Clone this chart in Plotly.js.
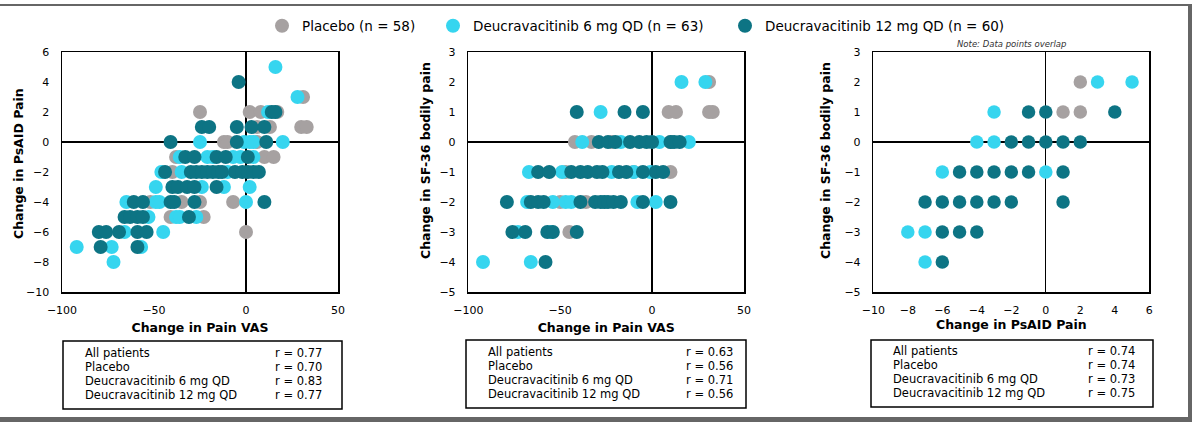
<!DOCTYPE html>
<html><head><meta charset="utf-8">
<script src="https://cdn.plot.ly/plotly-3.0.1.min.js"></script>
<style>html,body{margin:0;padding:0;background:#fff;}#chart{width:1192px;height:422px;}</style>
</head><body><div id="chart"></div>
<script>
// ---------- data ----------
var groups = ['Placebo (n = 58)', 'Deucravacitinib 6 mg QD (n = 63)', 'Deucravacitinib 12 mg QD (n = 60)'];

// Panel 1: Change in Pain VAS (x) vs Change in PsAID Pain (y)
var p1PlaceboX = [31, -25, 2, 8, 17, 6, 13, 30, 33, -12, -10, 6, -38, 10, 15, -40, -52, -35, -25, -7, -41, -23, 0];
var p1PlaceboY = [3, 2, 2, 2, 2, 1, 1, 1, 1, 0, 0, 0, -1, -1, -1, -2, -4, -4, -4, -4, -5, -5, -6];
var p1Dose6X = [16, 28, 12, -25, -1, 2, 4, 20, -36, -21, -18, -7, -3, 4, -46, -35, -10, -49, -24, -12, 2, -65, -49, -47, 0, -53, -38, -36, -27, -66, -45, -92, -73, -57, -72];
var p1Dose6Y = [5, 3, 2, 0, 0, 0, 0, 0, -1, -1, -1, -1, -1, -1, -2, -2, -2, -3, -3, -3, -3, -4, -4, -4, -4, -5, -5, -5, -5, -6, -6, -7, -7, -7, -8];
var p1Dose12X = [-4, 14, 16, -24, -20, -5, 3, 10, -41, -5, 11, -33, -28, -16, -11, 1, -44, -30, -27, -24, -21, -18, -15, -13, -6, -2, 1, 4, 7, -40, -37, -32, -28, -16, -61, -56, -41, -39, -28, 10, -66, -63, -59, -56, -31, -80, -76, -69, -59, -54, -79, -59];
var p1Dose12Y = [4, 2, 2, 1, 1, 1, 1, 1, 0, 0, 0, -1, -1, -1, -1, -1, -2, -2, -2, -2, -2, -2, -2, -2, -2, -2, -2, -2, -2, -3, -3, -3, -3, -3, -4, -4, -4, -4, -4, -4, -5, -5, -5, -5, -5, -6, -6, -6, -6, -6, -7, -7];

// Panel 2: Change in Pain VAS (x) vs Change in SF-36 bodily pain (y)
var p2PlaceboX = [31, 9, 13, 31, 33, -42, -33, -22, 10, -47, -10, 10, -50, -36, -45];
var p2PlaceboY = [2, 1, 1, 1, 1, 0, 0, 0, 0, -1, -1, -1, -2, -2, -3];
var p2Dose6X = [16, 29, -28, -38, -17, 4, 20, -67, -49, -22, -10, -1, -68, -54, -47, -44, -8, 2, -73, -55, -92, -66];
var p2Dose6Y = [2, 2, 1, 0, 0, 0, 0, -1, -1, -1, -1, -1, -2, -2, -2, -2, -2, -2, -3, -3, -4, -4];
var p2Dose12X = [-41, -15, -5, -29, -24, -20, -12, -7, -3, 0, 10, 12, 15, -62, -56, -44, -39, -35, -30, -27, -18, -14, -5, 2, 6, -79, -66, -62, -59, -39, -31, -28, -26, -24, -21, -17, -5, 10, -76, -69, -57, -54, -41, -58];
var p2Dose12Y = [1, 1, 1, 0, 0, 0, 0, 0, 0, 0, 0, 0, 0, -1, -1, -1, -1, -1, -1, -1, -1, -1, -1, -1, -1, -2, -2, -2, -2, -2, -2, -2, -2, -2, -2, -2, -2, -2, -3, -3, -3, -3, -3, -4];

// Panel 3: Change in PsAID Pain (x) vs Change in SF-36 bodily pain (y)
var p3PlaceboX = [2, 1, 2];
var p3PlaceboY = [2, 1, 1];
var p3Dose6X = [3, 5, -3, -4, -3, -6, 0, -8, -7, -7];
var p3Dose6Y = [2, 2, 1, 0, 0, -1, -1, -3, -3, -4];
var p3Dose12X = [-1, 0, 4, -2, -1, 0, 1, 2, -5, -4, -3, -2, -1, 1, -7, -6, -5, -4, -3, -2, 1, -6, -5, -4, -6];
var p3Dose12Y = [1, 1, 1, 0, 0, 0, 0, 0, -1, -1, -1, -1, -1, -1, -2, -2, -2, -2, -2, -2, -2, -3, -3, -3, -4];

// correlation tables
var tableLabels = ['All patients', 'Placebo', 'Deucravacitinib 6 mg QD', 'Deucravacitinib 12 mg QD'];
var r1 = ['0.77', '0.70', '0.83', '0.77'];
var r2 = ['0.63', '0.56', '0.71', '0.56'];
var r3 = ['0.74', '0.74', '0.73', '0.75'];

var xTitles = ['Change in Pain VAS', 'Change in Pain VAS', 'Change in PsAID Pain'];
var yTitles = ['Change in PsAID Pain', 'Change in SF-36 bodily pain', 'Change in SF-36 bodily pain'];

// ---------- styling ----------
var W = 1192, H = 422;
function px(v) { return v / W; }
function py(v) { return 1 - v / H; }
var FONT = 'DejaVu Sans, Verdana, sans-serif';
var colors = ['#A6A1A1', '#36D5EF', '#0D7484'];
var legendNames = ['legend', 'legend2', 'legend3'];
var legendX = [262, 433, 725];

var panels = [
  {sets: [[p1PlaceboX, p1PlaceboY], [p1Dose6X, p1Dose6Y], [p1Dose12X, p1Dose12Y]], size: 14},
  {sets: [[p2PlaceboX, p2PlaceboY], [p2Dose6X, p2Dose6Y], [p2Dose12X, p2Dose12Y]], size: 14},
  {sets: [[p3PlaceboX, p3PlaceboY], [p3Dose6X, p3Dose6Y], [p3Dose12X, p3Dose12Y]], size: 13.5}
];

var traces = [];
panels.forEach(function (p, i) {
  p.sets.forEach(function (s, g) {
    traces.push({
      type: 'scatter', mode: 'markers',
      x: s[0], y: s[1],
      name: groups[g], legendgroup: 'g' + g, showlegend: i === 0,
      legend: legendNames[g],
      xaxis: i === 0 ? 'x' : 'x' + (i + 1),
      yaxis: i === 0 ? 'y' : 'y' + (i + 1),
      marker: {color: colors[g], size: p.size, line: {width: 0}},
      hoverinfo: 'x+y+name'
    });
  });
});

function axisBase(extra) {
  var a = {
    showline: true, mirror: true, linecolor: '#000', linewidth: 1.5,
    showgrid: false, zeroline: true, zerolinecolor: '#000', zerolinewidth: 1.3,
    ticks: '', tickfont: {family: FONT, size: 11, color: '#000'},
    fixedrange: true
  };
  for (var k in extra) a[k] = extra[k];
  return a;
}
var yDom = [py(292), py(52)];
var xDoms = [[px(62), px(338)], [px(468.3), px(744)], [px(873.3), px(1149.3)]];
var titleFont = {family: FONT, size: 12.5, color: '#000'};

function legendDef(i) {
  return {
    orientation: 'h', x: px(legendX[i]), xanchor: 'left', y: py(26), yanchor: 'middle',
    font: {family: FONT, size: 13.5, color: '#000'}, itemsizing: 'trace',
    bgcolor: 'rgba(0,0,0,0)', borderwidth: 0
  };
}

var layout = {
  width: W, height: H,
  margin: {l: 0, r: 0, t: 0, b: 0},
  paper_bgcolor: '#fff', plot_bgcolor: '#fff',
  font: {family: FONT, color: '#000'},
  showlegend: true,
  legend: legendDef(0), legend2: legendDef(1), legend3: legendDef(2),
  xaxis: axisBase({domain: xDoms[0], range: [-100, 50], tickvals: [-100, -50, 0, 50], anchor: 'y', ticklabelstandoff: 7,
    title: {text: '<b>' + xTitles[0] + '</b>', font: titleFont, standoff: 7}}),
  yaxis: axisBase({domain: yDom, range: [-10, 6], dtick: 2, anchor: 'x', ticklabelstandoff: 9}),
  xaxis2: axisBase({domain: xDoms[1], range: [-100, 50], tickvals: [-100, -50, 0, 50], anchor: 'y2', ticklabelstandoff: 7,
    title: {text: '<b>' + xTitles[1] + '</b>', font: titleFont, standoff: 7}}),
  yaxis2: axisBase({domain: yDom, range: [-5, 3], dtick: 1, anchor: 'x2', ticklabelstandoff: 9}),
  xaxis3: axisBase({domain: xDoms[2], range: [-10, 6], dtick: 2, anchor: 'y3', ticklabelstandoff: 7,
    title: {text: '<b>' + xTitles[2] + '</b>', font: titleFont, standoff: 4}}),
  yaxis3: axisBase({domain: yDom, range: [-5, 3], dtick: 1, anchor: 'x3', ticklabelstandoff: 9}),
  shapes: [],
  annotations: []
};

// y-axis titles (placed slightly above the plot centre, as in the source)
var yTitlePos = [[18, 164], [425, 161], [825, 161]];
yTitles.forEach(function (t, i) {
  layout.annotations.push({xref: 'paper', yref: 'paper', x: px(yTitlePos[i][0]), y: py(yTitlePos[i][1]),
    xanchor: 'center', yanchor: 'middle', textangle: -90, showarrow: false,
    text: '<b>' + t + '</b>', font: titleFont});
});

// outer frame (top, right, bottom)
var frameCol = '#666666';
layout.shapes.push({type: 'rect', xref: 'paper', yref: 'paper', x0: 0, x1: 1, y0: py(6), y1: py(4), fillcolor: frameCol, line: {width: 0}, layer: 'above'});
layout.shapes.push({type: 'rect', xref: 'paper', yref: 'paper', x0: px(1188), x1: 1, y0: 0, y1: py(4), fillcolor: frameCol, line: {width: 0}, layer: 'above'});
layout.shapes.push({type: 'rect', xref: 'paper', yref: 'paper', x0: 0, x1: 1, y0: 0, y1: py(417), fillcolor: frameCol, line: {width: 0}, layer: 'above'});

// correlation tables
var tables = [
  {r: r1, x0: 63, x1: 342, y0: 341, y1: 409, lx: 83, rx: 273, ry: 352.5},
  {r: r2, x0: 466, x1: 746, y0: 340, y1: 408, lx: 486, rx: 684, ry: 351.5},
  {r: r3, x0: 871, x1: 1153, y0: 340, y1: 407, lx: 891, rx: 1086, ry: 351}
];
tables.forEach(function (t) {
  layout.shapes.push({type: 'rect', xref: 'paper', yref: 'paper', x0: px(t.x0), x1: px(t.x1), y0: py(t.y1), y1: py(t.y0),
    line: {color: '#000', width: 1.5}, fillcolor: 'rgba(0,0,0,0)'});
  tableLabels.forEach(function (lab, k) {
    var yy = py(t.ry + 14 * k);
    layout.annotations.push({xref: 'paper', yref: 'paper', x: px(t.lx), y: yy, xanchor: 'left', yanchor: 'middle',
      text: lab, showarrow: false, font: {family: FONT, size: 11.5, color: '#000'}});
    layout.annotations.push({xref: 'paper', yref: 'paper', x: px(t.rx), y: yy, xanchor: 'left', yanchor: 'middle',
      text: 'r = ' + t.r[k], showarrow: false, font: {family: FONT, size: 11.5, color: '#000'}});
  });
});

layout.annotations.push({xref: 'paper', yref: 'paper', x: px(1011), y: py(44), xanchor: 'center', yanchor: 'middle',
  text: '<i>Note: Data points overlap</i>', showarrow: false, font: {family: FONT, size: 8.5, color: '#333'}});

Plotly.newPlot('chart', traces, layout, {displayModeBar: false, staticPlot: true});
</script></body></html>
